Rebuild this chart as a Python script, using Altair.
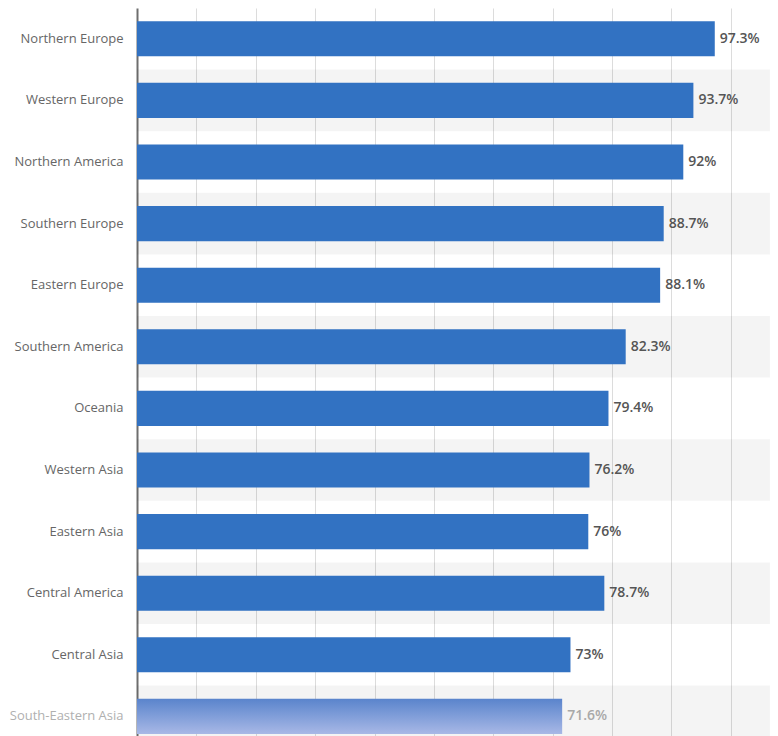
import altair as alt
import pandas as pd

regions = [
    "Northern Europe", "Western Europe", "Northern America", "Southern Europe",
    "Eastern Europe", "Southern America", "Oceania", "Western Asia",
    "Eastern Asia", "Central America", "Central Asia", "South-Eastern Asia",
]
values = [97.3, 93.7, 92.0, 88.7, 88.1, 82.3, 79.4, 76.2, 76.0, 78.7, 73.0, 71.6]
grid_ticks = [10, 20, 30, 40, 50, 60, 70, 80, 90, 100]

df = pd.DataFrame({"region": regions, "value": values})
df["label"] = [f"{v:g}%" for v in values]

W = 633
STEP = 61.6
H = STEP * len(regions)
LAST = regions[-1]

xscale = alt.Scale(domain=[0, 106.6], nice=False, zero=True)
yenc = alt.Y(
    "region:N",
    sort=regions,
    title=None,
    scale=alt.Scale(paddingInner=0.43, paddingOuter=0.215),
    axis=alt.Axis(
        ticks=False,
        labelPadding=14,
        labelFont="Open Sans",
        labelFontSize=13,
        labelColor=alt.expr(f"datum.value == '{LAST}' ? '#b0b0b0' : '#666666'"),
        domainColor="#6e6e6e",
        domainWidth=2,
        minExtent=129,
        maxExtent=129,
        grid=False,
    ),
)
xenc = alt.X(
    "value:Q",
    scale=xscale,
    title=None,
    axis=alt.Axis(
        values=grid_ticks,
        labels=False,
        ticks=False,
        domain=False,
        grid=True,
        gridColor="#dcdcdc",
        gridWidth=1,
    ),
)

base = alt.Chart(df).transform_window(idx="row_number()")

bands = base.transform_filter("datum.idx % 2 == 0").mark_bar(
    size=STEP, color="#000000", opacity=0.045
).encode(y=yenc, x=alt.value(0), x2=alt.value(W))

bars = base.transform_filter(f"datum.idx < {len(regions)}").mark_bar(
    color="#3272c2", size=STEP * 0.57
).encode(y=yenc, x=xenc)

grad = alt.LinearGradient(
    gradient="linear",
    x1=0, y1=0, x2=0, y2=1,
    stops=[
        alt.GradientStop(offset=0, color="#5a84cc"),
        alt.GradientStop(offset=1, color="#a8b8e6"),
    ],
)
last_bar = base.transform_filter(f"datum.idx == {len(regions)}").mark_bar(
    color=grad, size=STEP * 0.57
).encode(y=yenc, x=xenc)

texts = base.mark_text(
    align="left", baseline="middle", dx=5, font="Open Sans", fontSize=14,
    fontWeight=600,
).encode(
    y=yenc,
    x=xenc,
    text="label:N",
    color=alt.condition(f"datum.region == '{LAST}'", alt.value("#a8a8a8"), alt.value("#555555")),
)

chart = (
    alt.layer(bands, bars, last_bar, texts)
    .properties(width=W, height=H, padding=0)
    .configure_view(stroke=None)
)

chart.save("out.html", embed_options={"renderer": "svg", "actions": False})
